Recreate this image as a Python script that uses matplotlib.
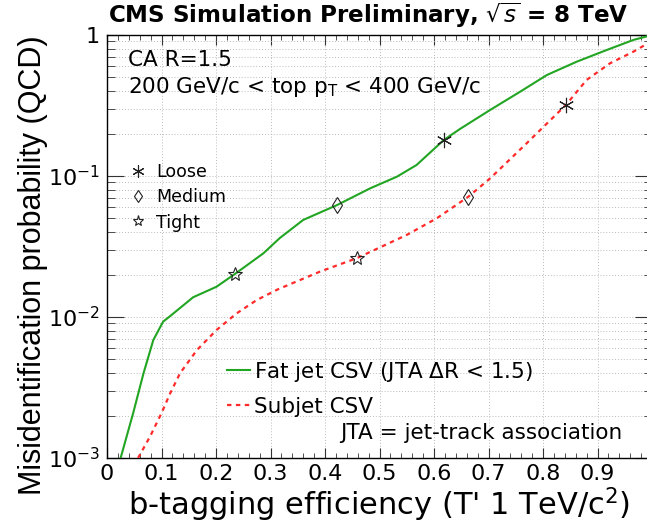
import matplotlib
matplotlib.use("Agg")
import matplotlib.pyplot as plt
from matplotlib.lines import Line2D
from matplotlib.ticker import FixedLocator, MultipleLocator, LogLocator, NullFormatter

plt.rcParams['font.family'] = ['DejaVu Sans']
plt.rcParams['mathtext.fontset'] = 'dejavusans'

# ---- data ----
fat_eff = [0.025, 0.048, 0.067, 0.085, 0.103, 0.116, 0.158, 0.201, 0.234, 0.287,
           0.317, 0.360, 0.422, 0.483, 0.532, 0.568, 0.618, 0.648, 0.703, 0.758,
           0.807, 0.862, 0.917, 0.966, 1.0]
fat_mis = [0.00100, 0.00208, 0.00399, 0.00687, 0.00927, 0.01016, 0.0138, 0.0164, 0.0201, 0.0283,
           0.0363, 0.0488, 0.0622, 0.0818, 0.0989, 0.1197, 0.180, 0.216, 0.294, 0.396,
           0.520, 0.647, 0.783, 0.923, 1.0]

sub_eff = [0.057, 0.079, 0.100, 0.116, 0.134, 0.165, 0.201, 0.238, 0.275, 0.314,
           0.391, 0.458, 0.550, 0.605, 0.663, 0.703, 0.770, 0.842, 0.880, 0.923,
           0.966, 0.987, 1.0]
sub_mis = [0.0010, 0.00142, 0.00208, 0.00288, 0.00399, 0.00583, 0.00809, 0.01062, 0.01321, 0.01574,
           0.0210, 0.0261, 0.0382, 0.0501, 0.0713, 0.0962, 0.1706, 0.319, 0.480, 0.630,
           0.762, 0.849, 0.891]

wp_names = ["Loose", "Medium", "Tight"]
fat_wp_eff = [0.618, 0.422, 0.234]
fat_wp_mis = [0.180, 0.0622, 0.0201]
sub_wp_eff = [0.842, 0.663, 0.458]
sub_wp_mis = [0.319, 0.0713, 0.0261]

x_ticks = [0, 0.1, 0.2, 0.3, 0.4, 0.5, 0.6, 0.7, 0.8, 0.9, 1.0]
x_tick_labels = ["0", "0.1", "0.2", "0.3", "0.4", "0.5", "0.6", "0.7", "0.8", "0.9", ""]
y_ticks = [1e-3, 1e-2, 1e-1, 1]
y_tick_labels = [r"10$^{-3}$", r"10$^{-2}$", r"10$^{-1}$", "1"]

# ---- figure ----
W, H = 647, 523
fig = plt.figure(figsize=(W / 100, H / 100), dpi=100)
ax = fig.add_axes([107 / W, (H - 458) / H, 545 / W, 423 / H])

green = "#22a522"
red = "#ff2a2a"

ax.plot(fat_eff, fat_mis, color=green, lw=1.5, label="Fat jet CSV (JTA $\\Delta$R < 1.5)", zorder=3)
ax.plot(sub_eff, sub_mis, color=red, lw=1.6, ls=(0, (2.0, 2.0)), label="Subjet CSV", zorder=3)

markers = [(6, 2, 0), "d", "*"]
msizes = [11, 8, 10]
for i in range(3):
    ax.plot([fat_wp_eff[i], sub_wp_eff[i]], [fat_wp_mis[i], sub_wp_mis[i]], ls="none",
            marker=markers[i], ms=msizes[i], mfc="none", mec="#222222", mew=0.8, zorder=4)

ax.set_yscale("log")
ax.set_xlim(0, 1)
ax.set_ylim(1e-3, 1)

ax.xaxis.set_major_locator(FixedLocator(x_ticks))
ax.set_xticklabels(x_tick_labels)
ax.xaxis.set_minor_locator(MultipleLocator(0.02))
ax.yaxis.set_major_locator(FixedLocator(y_ticks))
ax.set_yticklabels(y_tick_labels)
ax.yaxis.set_minor_locator(LogLocator(base=10, subs=range(2, 10)))
ax.yaxis.set_minor_formatter(NullFormatter())

ax.tick_params(which="both", direction="in", top=True, right=True, labelsize=16, color="#333333")
ax.tick_params(axis="x", which="major", length=7, pad=4)
ax.tick_params(axis="x", which="minor", length=3.5)
ax.tick_params(axis="y", which="major", length=12, pad=5)
ax.tick_params(axis="y", which="minor", length=6)
for s in ax.spines.values():
    s.set_linewidth(1.0)

ax.grid(True, which="major", axis="x", ls=(0, (1, 2)), color="#bbbbbb", lw=0.7)
ax.grid(True, which="both", axis="y", ls=(0, (1, 2)), color="#bbbbbb", lw=0.7)
ax.set_axisbelow(True)

# legends
wp_handles = [Line2D([], [], ls="none", marker=markers[i], ms=msizes[i] * 0.8, mfc="none",
                     mec="#222222", mew=0.8) for i in range(3)]
leg1 = ax.legend(wp_handles, wp_names, loc="upper left", bbox_to_anchor=(0.028, 0.714),
                 frameon=False, fontsize=12.5, handlelength=1.0, handletextpad=0.55,
                 labelspacing=0.42, borderaxespad=0)
ax.add_artist(leg1)
ax.legend(loc="upper left", bbox_to_anchor=(0.205, 0.252), frameon=False, fontsize=15.5,
          handlelength=1.05, handletextpad=0.2, labelspacing=0.6, borderaxespad=0)

ax.text(0.039, 0.94, "CA R=1.5", transform=ax.transAxes, fontsize=15.5, va="center")
ax.text(0.039, 0.876, "200 GeV/c < top p$_{\\mathrm{T}}$ < 400 GeV/c", transform=ax.transAxes,
        fontsize=15.5, va="center")
ax.text(0.428, 0.059, "JTA = jet-track association", transform=ax.transAxes, fontsize=15.5,
        va="center")

fig.text(108 / W, 1 - 15 / H, "CMS Simulation Preliminary, $\\sqrt{s}$ = 8 TeV", fontsize=16.6,
         fontweight="bold", va="center", ha="left")
fig.text(128 / W, 1 - 505 / H, "b-tagging efficiency (T' 1 TeV/c$^{2}$)", fontsize=22,
         va="center", ha="left")
fig.text(33 / W, 1 - 265 / H, "Misidentification probability (QCD)", fontsize=22,
         rotation=90, va="center", ha="center", family="Liberation Sans")

fig.savefig("out.png", dpi=100)
